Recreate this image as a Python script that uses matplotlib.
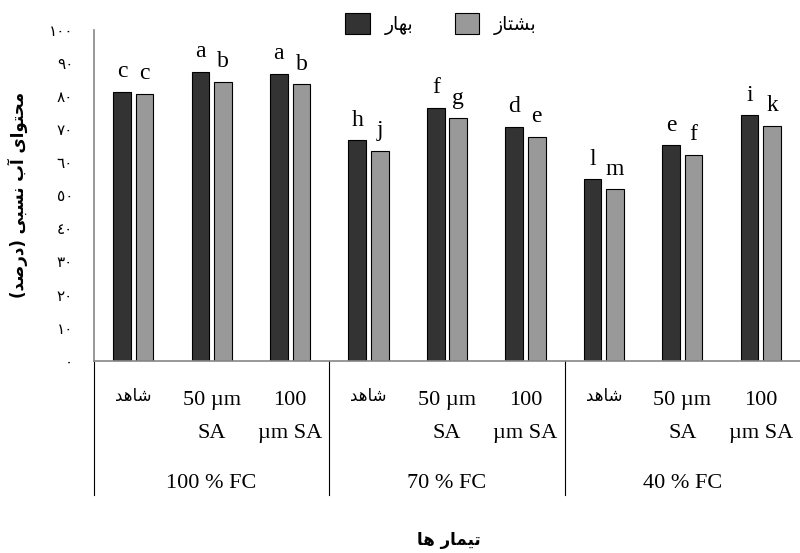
import numpy as np
import matplotlib
matplotlib.use('Agg')
from matplotlib import pyplot as plt

# --- data ---
categories = ['شاهد', '50 µm\nSA', '100\nµm SA'] * 3
groups = ['100 % FC', '70 % FC', '40 % FC']
series_names = ['بهار', 'بشتاز']
bahar = [81.3, 87.4, 86.7, 66.6, 76.4, 70.7, 54.8, 65.1, 74.2]
bashtaz = [80.7, 84.4, 83.6, 63.5, 73.3, 67.7, 51.8, 62.3, 71.1]
letters_bahar = ['c', 'a', 'a', 'h', 'f', 'd', 'l', 'e', 'i']
letters_bashtaz = ['c', 'b', 'b', 'j', 'g', 'e', 'm', 'f', 'k']
yticks = [0, 10, 20, 30, 40, 50, 60, 70, 80, 90, 100]
ytick_labels = ['٠', '١٠', '٢٠', '٣٠', '٤٠', '٥٠', '٦٠', '٧٠', '٨٠', '٩٠', '١٠٠']
ylabel = 'محتوای آب نسبی (درصد)'
xlabel = 'تیمار ها'

# matplotlib has no arabic shaping, so do it by hand for the letters used here
# (isolated, final, initial, medial)
FORMS = {
    'ا': ('\uFE8D', '\uFE8E', None, None),
    'آ': ('\uFE81', '\uFE82', None, None),
    'ب': ('\uFE8F', '\uFE90', '\uFE91', '\uFE92'),
    'ت': ('\uFE95', '\uFE96', '\uFE97', '\uFE98'),
    'ح': ('\uFEA1', '\uFEA2', '\uFEA3', '\uFEA4'),
    'د': ('\uFEA9', '\uFEAA', None, None),
    'ر': ('\uFEAD', '\uFEAE', None, None),
    'ز': ('\uFEAF', '\uFEB0', None, None),
    'س': ('\uFEB1', '\uFEB2', '\uFEB3', '\uFEB4'),
    'ش': ('\uFEB5', '\uFEB6', '\uFEB7', '\uFEB8'),
    'ص': ('\uFEB9', '\uFEBA', '\uFEBB', '\uFEBC'),
    'م': ('\uFEE1', '\uFEE2', '\uFEE3', '\uFEE4'),
    'ن': ('\uFEE5', '\uFEE6', '\uFEE7', '\uFEE8'),
    'ه': ('\uFEE9', '\uFEEA', '\uFEEB', '\uFEEC'),
    'و': ('\uFEED', '\uFEEE', None, None),
    'ی': ('\uFEEF', '\uFEF0', '\uFEF3', '\uFEF4'),
}
MIRROR = {'(': ')', ')': '('}


def is_persian(s):
    return any(c in FORMS for c in s)


def shape(text):
    out = []
    for i, c in enumerate(text):
        if c not in FORMS:
            out.append(c)
            continue
        prev = text[i - 1] if i > 0 else ''
        nxt = text[i + 1] if i < len(text) - 1 else ''
        pj = prev in FORMS and FORMS[prev][2] is not None
        nj = nxt in FORMS
        iso, fin, ini, med = FORMS[c]
        if pj and nj and med:
            out.append(med)
        elif pj:
            out.append(fin)
        elif nj and ini:
            out.append(ini)
        else:
            out.append(iso)
    return ''.join(MIRROR.get(c, c) for c in reversed(out))


serif = ['Liberation Serif', 'DejaVu Sans']

fig = plt.figure(figsize=(8, 5.53), dpi=100)
ax = fig.add_axes([94 / 800, 0.3477, 706 / 800, 0.5981])

x = np.arange(len(categories))
w = 0.225
off = 0.144
ax.bar(x - off, bahar, w, color='#333333', edgecolor='black', linewidth=0.8,
       label=shape(series_names[0]))
ax.bar(x + off, bashtaz, w, color='#999999', edgecolor='black', linewidth=0.8,
       label=shape(series_names[1]))

for xi, v, t in zip(x, bahar, letters_bahar):
    ax.annotate(t, (xi - off, v), xytext=(0, 10.5), textcoords='offset points',
                ha='center', va='baseline', fontsize=17, family=serif)
for xi, v, t in zip(x, bashtaz, letters_bashtaz):
    ax.annotate(t, (xi + off, v), xytext=(0, 10.5), textcoords='offset points',
                ha='center', va='baseline', fontsize=17, family=serif)

ax.set_xlim(-0.5, len(categories) - 0.5)
ax.set_ylim(0, 100)
ax.set_yticks(yticks)
ax.set_yticklabels(ytick_labels, fontsize=11, family='DejaVu Sans')
ax.tick_params(axis='y', length=0, pad=15)
ax.set_xticks([])
for s in ['top', 'right']:
    ax.spines[s].set_visible(False)
for s in ['left', 'bottom']:
    ax.spines[s].set_color('#868686')
    ax.spines[s].set_linewidth(1.2)

# category labels under the bars
trans = ax.get_xaxis_transform()
rows = [-0.119, -0.219]
for i, lab in enumerate(categories):
    for j, line in enumerate(lab.split('\n')):
        if is_persian(line):
            ax.text(i, rows[j] + 0.012, shape(line), transform=trans, ha='center',
                    va='center', fontsize=12, family='DejaVu Sans')
        else:
            ax.text(i, rows[j], line, transform=trans, ha='center', va='center',
                    fontsize=16, family=serif)

# group labels and separators
for g, name in enumerate(groups):
    ax.text(g * 3 + 1, -0.370, name, transform=trans, ha='center', va='center',
            fontsize=16, family=serif)
    ax.plot([g * 3 - 0.5, g * 3 - 0.5], [0, -0.406], transform=trans,
            color='black', linewidth=0.8, clip_on=False)

fig.text(18 / 800, 1 - 195 / 553, shape(ylabel), rotation=90, ha='center',
         va='center', fontsize=12, fontweight='bold', family='DejaVu Sans')
fig.text(449 / 800, 1 - 540 / 553, shape(xlabel), ha='center', va='center',
         fontsize=12, fontweight='bold', family='DejaVu Sans')

fig.legend(loc='center', bbox_to_anchor=(441 / 800, 1 - 24 / 553), ncol=2,
           frameon=False, handlelength=1.3, handleheight=1.3,
           handletextpad=0.8, columnspacing=2.2,
           prop={'family': 'DejaVu Sans', 'size': 13.5})

fig.savefig('out.png', dpi=100)
